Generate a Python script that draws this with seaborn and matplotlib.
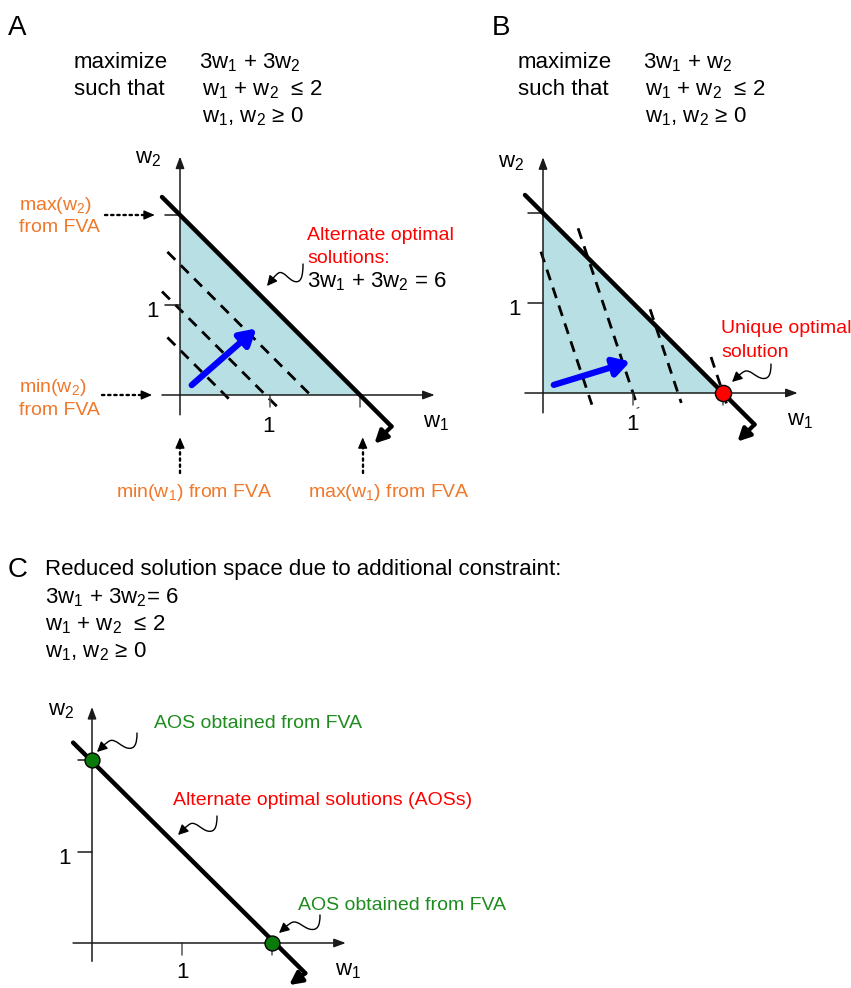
import numpy as np
import pandas as pd
import matplotlib
matplotlib.use("Agg")
import matplotlib.pyplot as plt
import seaborn as sns
from matplotlib.patches import FancyArrowPatch
from matplotlib.path import Path
from matplotlib.transforms import Affine2D

# ---------------- data ----------------
tick_values = [1, 2]
region_w1 = [0, 2, 0]                 # feasible region w1 + w2 <= 2, w >= 0
region_w2 = [0, 0, 2]
bound_w1 = [-0.2, 2.35]               # constraint line w1 + w2 = 2
bound_w2 = [2.2, -0.35]
hook_w1 = [2.35, 2.16]
hook_w2 = [-0.35, -0.54]
boundC_w1 = [-0.21, 2.37]
boundC_w2 = [2.19, -0.33]
hookC_w1 = [2.37, 2.19]
hookC_w2 = [-0.33, -0.46]

isoA_level = [0.5, 0.95, 1.45]        # 3w1 + 3w2 iso-lines: w1 + w2 = c
isoA_w1_from = [-0.14, -0.2, -0.14]
isoA_w1_to = [0.57, 1.08, 1.48]

isoB_level = [1.5, 3.0, 4.5, 6.0]     # 3w1 + w2 = c
isoB_w2_from = [1.57, 1.83, 0.93, 0.40]
isoB_w2_to = [-0.13, -0.17, -0.11, -0.13]

gradA_w1 = [0.13, 0.85]
gradA_w2 = [0.11, 0.74]
gradB_w1 = [0.12, 0.97]
gradB_w2 = [0.09, 0.35]

unique_w1 = [2]
unique_w2 = [0]
aos_w1 = [0, 2]
aos_w2 = [2, 0]

# ---------------- style ----------------
sns.set_theme(style="white")
plt.rcParams["font.family"] = ["Liberation Sans", "DejaVu Sans"]
plt.rcParams["mathtext.default"] = "regular"

ORANGE = "#F0782A"
RED = "#FF0000"
GREEN = "#1E8C1E"
FILL = "#B8DFE3"
BLUE = "#0000FF"

W, H = 851, 988
fig = plt.figure(figsize=(W / 100, H / 100), dpi=100)
fig.patch.set_facecolor("white")
PX = Affine2D().scale(1 / W, -1 / H).translate(0, 1) + fig.transFigure


def make_axes(ox, oy, ux, uy, rect):
    x0, y0, w, h = rect
    ax = fig.add_axes([x0 / W, 1 - (y0 + h) / H, w / W, h / H])
    lims = ((x0 - ox) / ux, (x0 + w - ox) / ux), ((oy - (y0 + h)) / uy, (oy - y0) / uy)
    ax.axis("off")
    ax.patch.set_visible(False)
    return ax, lims


def arrow(ax, p0, p1, lw, color, hl, hw, **kw):
    ax.annotate("", xy=p1, xytext=p0, annotation_clip=False,
                arrowprops=dict(arrowstyle=f"-|>,head_length={hl},head_width={hw}",
                                lw=lw, color=color, shrinkA=0, shrinkB=0,
                                mutation_scale=1, **kw))


def draw_axes(ax, xr, yr, ytl, xtl):
    arrow(ax, (xr[0], 0), (xr[1], 0), 1.1, "#1a1a1a", 7, 2.6)
    arrow(ax, (0, yr[0]), (0, yr[1]), 1.1, "#1a1a1a", 7, 2.6)
    for t in tick_values:
        ax.plot([-ytl, 0], [t, t], color="#1a1a1a", lw=1.1)
        ax.plot([t, t], [0, -xtl], color="#555555", lw=1.1)


def txt(x, y, s, size=16, color="black", ha="left"):
    fig.text(x, y, s, transform=PX, fontsize=size, color=color, va="baseline", ha=ha)


squig_u = [1, 1, 0.94, 0.78, 0.61, 0.47, 0.33, 0.22, 0.1, 0]
squig_v = [-1, -0.4, -0.15, -0.2, -0.25, -0.7, -0.6, -0.5, -0.2, 0]


def squiggle(sx, sy, ex, ey):
    verts = [(ex + u * (sx - ex), ey + v * (ey - sy)) for u, v in zip(squig_u, squig_v)]
    codes = [Path.MOVETO] + [Path.CURVE4] * 9
    p = FancyArrowPatch(path=Path(verts, codes), transform=PX,
                        arrowstyle="-|>,head_length=6,head_width=3",
                        mutation_scale=1, lw=1.0, color="black")
    fig.add_artist(p)


def dotted_arrow(ax, p0, p1):
    p0 = np.array(p0, float)
    p1 = np.array(p1, float)
    d = p1 - p0
    d = d / np.linalg.norm(d)
    ax.plot([p0[0], p1[0] - 0.1 * d[0]], [p0[1], p1[1] - 0.1 * d[1]], color="black",
            lw=1.7, linestyle=(0, (1, 1.6)), dash_capstyle="round", clip_on=False)
    arrow(ax, tuple(p1 - 0.12 * d), tuple(p1), 1.0, "black", 6.5, 2.8)


dash = (0, (4, 2.8))

# ================= Panel A =================
axA, limA = make_axes(180, 395, 90, 90, (0, 130, 480, 390))
axA.fill(region_w1, region_w2, color=FILL, lw=0, zorder=0)
isoA = pd.DataFrame({
    "w1": np.concatenate([[a, b] for a, b in zip(isoA_w1_from, isoA_w1_to)]),
    "w2": np.concatenate([[c - a, c - b] for c, a, b in zip(isoA_level, isoA_w1_from, isoA_w1_to)]),
    "line": np.repeat(range(len(isoA_level)), 2),
})
sns.lineplot(data=isoA, x="w1", y="w2", units="line", estimator=None, sort=False,
             color="black", lw=2.0, linestyle=dash, ax=axA, zorder=2)
draw_axes(axA, (-0.2, 2.83), (-0.22, 2.65), 0.17, 0.13)
sns.lineplot(x=bound_w1, y=bound_w2, sort=False, color="black", lw=3.2, ax=axA, zorder=4)
arrow(axA, (hook_w1[0], hook_w2[0]), (hook_w1[1], hook_w2[1]), 3.0, "black", 7.5, 3.8)
arrow(axA, (gradA_w1[0], gradA_w2[0]), (gradA_w1[1], gradA_w2[1]), 4.5, BLUE, 9.5, 5.5)
dotted_arrow(axA, (-0.83, 2), (-0.28, 2))
dotted_arrow(axA, (-0.87, 0), (-0.31, 0))
dotted_arrow(axA, (0, -0.87), (0, -0.47))
dotted_arrow(axA, (2.03, -0.87), (2.03, -0.47))
axA.set_xlim(*limA[0]); axA.set_ylim(*limA[1])

txt(8, 35, "A", size=20)
txt(74, 68, "maximize"); txt(74, 95, "such that")
txt(199, 68, "3w$_1$ + 3w$_2$")
txt(202, 95, "w$_1$ + w$_2$  ≤ 2")
txt(202, 122, "w$_1$, w$_2$ ≥ 0")
txt(135, 163, "w$_2$"); txt(423, 427, "w$_1$")
txt(159, 317, "1", ha="right"); txt(269, 432, "1", ha="center")
txt(19, 210, "max(w$_2$)", 14, ORANGE); txt(19, 232, "from FVA", 14, ORANGE)
txt(19, 392, "min(w$_2$)", 14, ORANGE); txt(19, 415, "from FVA", 14, ORANGE)
txt(116, 497, "min(w$_1$) from FVA", 14, ORANGE)
txt(308, 497, "max(w$_1$) from FVA", 14, ORANGE)
txt(307, 240, "Alternate optimal", 14, RED)
txt(307, 263, "solutions:", 14, RED)
txt(307, 287, "3w$_1$ + 3w$_2$ = 6")
squiggle(303, 264, 267, 286)

# ================= Panel B =================
axB, limB = make_axes(543, 393, 90, 90, (480, 130, 371, 330))
axB.fill(region_w1, region_w2, color=FILL, lw=0, zorder=0)
isoB = pd.DataFrame({
    "w1": np.concatenate([[(c - a) / 3, (c - b) / 3] for c, a, b in zip(isoB_level, isoB_w2_from, isoB_w2_to)]),
    "w2": np.concatenate([[a, b] for a, b in zip(isoB_w2_from, isoB_w2_to)]),
    "line": np.repeat(range(len(isoB_level)), 2),
})
sns.lineplot(data=isoB, x="w1", y="w2", units="line", estimator=None, sort=False,
             color="black", lw=2.0, linestyle=dash, ax=axB, zorder=2)
draw_axes(axB, (-0.2, 2.83), (-0.22, 2.62), 0.17, 0.13)
sns.lineplot(x=bound_w1, y=bound_w2, sort=False, color="black", lw=3.2, ax=axB, zorder=4)
arrow(axB, (hook_w1[0], hook_w2[0]), (hook_w1[1], hook_w2[1]), 3.0, "black", 7.5, 3.8)
arrow(axB, (gradB_w1[0], gradB_w2[0]), (gradB_w1[1], gradB_w2[1]), 4.5, BLUE, 9.5, 5.5)
sns.scatterplot(x=unique_w1, y=unique_w2, s=135, color=RED, edgecolor="black",
                linewidth=1, ax=axB, zorder=6, clip_on=False)
axB.set_xlim(*limB[0]); axB.set_ylim(*limB[1])

txt(492, 35, "B", size=20)
txt(518, 68, "maximize"); txt(518, 95, "such that")
txt(643, 68, "3w$_1$ + w$_2$")
txt(645, 95, "w$_1$ + w$_2$  ≤ 2")
txt(645, 122, "w$_1$, w$_2$ ≥ 0")
txt(498, 167, "w$_2$"); txt(787, 425, "w$_1$")
txt(521, 315, "1", ha="right"); txt(632, 430, "1", ha="center")
txt(721, 333, "Unique optimal", 14, RED)
txt(721, 357, "solution", 14, RED)
squiggle(771, 364, 732, 382)

# ================= Panel C =================
axC, limC = make_axes(92, 943, 90, 91.5, (0, 680, 420, 308))
draw_axes(axC, (-0.21, 2.82), (-0.2, 2.58), 0.16, 0.13)
sns.lineplot(x=boundC_w1, y=boundC_w2, sort=False, color="black", lw=3.2, ax=axC, zorder=4)
arrow(axC, (hookC_w1[0], hookC_w2[0]), (hookC_w1[1], hookC_w2[1]), 3.0, "black", 7.5, 3.8)
sns.scatterplot(x=aos_w1, y=aos_w2, s=115, color="#0A7A0A", edgecolor="black",
                linewidth=1, ax=axC, zorder=6, clip_on=False)
axC.set_xlim(*limC[0]); axC.set_ylim(*limC[1])

txt(8, 577, "C", size=20)
txt(45, 575, "Reduced solution space due to additional constraint:")
txt(45, 603, "3w$_1$ + 3w$_2$= 6")
txt(45, 630, "w$_1$ + w$_2$  ≤ 2")
txt(45, 657, "w$_1$, w$_2$ ≥ 0")
txt(48, 715, "w$_2$"); txt(335, 975, "w$_1$")
txt(71, 864, "1", ha="right"); txt(183, 978, "1", ha="center")
txt(154, 728, "AOS obtained from FVA", 14, GREEN)
txt(298, 910, "AOS obtained from FVA", 14, GREEN)
txt(173, 805, "Alternate optimal solutions (AOSs)", 14, RED)
squiggle(137, 733, 97, 752)
squiggle(217, 816, 178, 835)
squiggle(320, 915, 279, 933)

fig.savefig("out.png", dpi=100, facecolor="white")
